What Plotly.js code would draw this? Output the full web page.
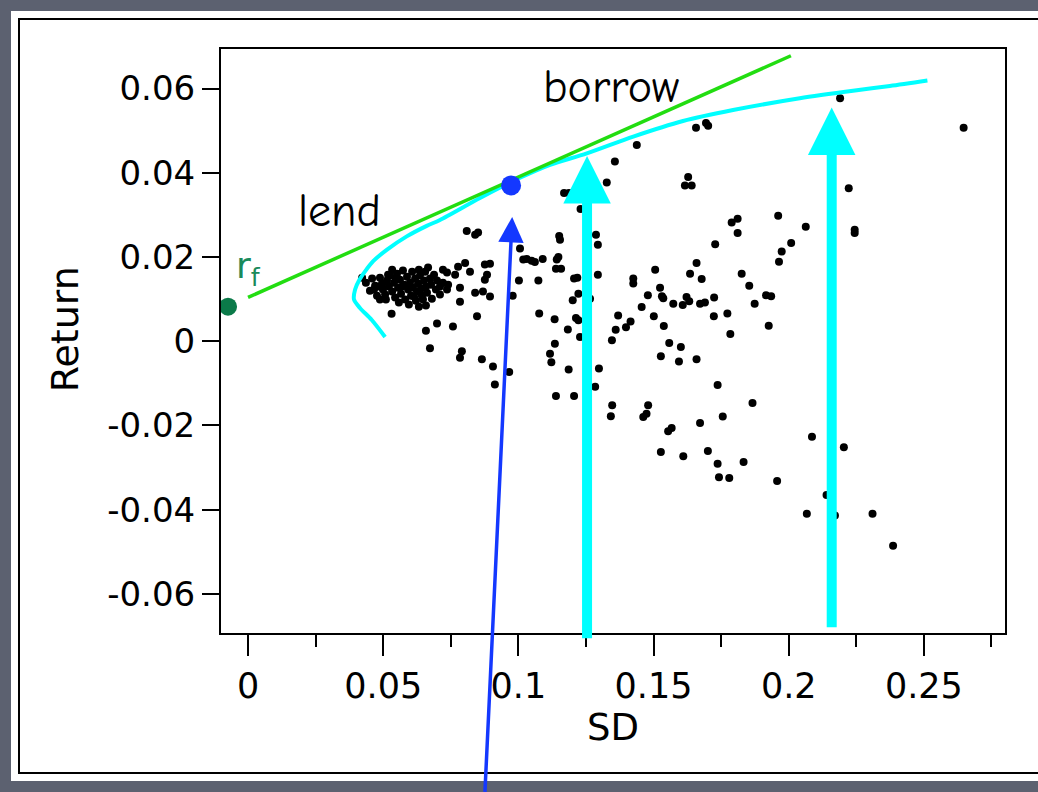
<!DOCTYPE html>
<html>
<head>
<meta charset="utf-8">
<script src="https://cdn.plot.ly/plotly-3.0.1.min.js"></script>
<style>
  html, body { margin: 0; padding: 0; width: 1038px; height: 792px; overflow: hidden; background: #5c6170; }
  #sheet { position: absolute; left: 11px; top: 11px; width: 1060px; height: 770px; background: #ffffff; }
  #frame { position: absolute; left: 18px; top: 18px; width: 1060px; height: 752px; border: 2px solid #000; }
  #chart { position: absolute; left: 0; top: 0; width: 1038px; height: 792px; }
</style>
</head>
<body>
<div id="sheet"></div>
<div id="frame"></div>
<div id="chart"></div>
<script>
// ---- individual assets: standard deviation (SD) and mean return ----
const assetSD = [
  0.0809,0.0840,0.0851,0.0531,0.0632,0.0658,0.0710,0.0721,0.0740,0.0736,
  0.0710,0.0721,0.0736,0.0777,0.0766,0.0803,0.0821,0.0784,0.0784,0.0840,
  0.0869,0.0895,0.0876,0.0895,0.0884,0.0876,0.0847,0.0658,0.0699,0.0758,
  0.0673,0.0791,0.0784,0.0865,0.0906,0.1357,0.1327,0.1169,0.1187,0.1230,
  0.1151,0.1154,0.1287,0.1294,0.1006,0.1018,0.1031,0.1049,0.1061,0.1090,
  0.1142,0.1148,0.1139,0.1158,0.1002,0.1074,0.1206,0.1218,0.1294,0.1425,
  0.1425,0.0979,0.1222,0.1201,0.1265,0.1479,0.1456,0.1077,0.1134,0.1213,
  0.1222,0.1369,0.1183,0.1228,0.1415,0.1398,0.1360,0.1346,0.1135,0.1117,
  0.1122,0.0966,0.1186,0.1298,0.0913,0.1284,0.1139,0.1206,0.1347,0.1480,
  0.1628,0.1616,0.1641,0.1961,0.2063,0.1789,0.1811,0.1811,0.2009,0.1974,
  0.1964,0.1728,0.1659,0.1506,0.1635,0.1678,0.1826,0.1854,0.1524,0.1531,
  0.1536,0.1573,0.1608,0.1622,0.1632,0.1672,0.1690,0.1724,0.1916,0.1935,
  0.1874,0.1501,0.1538,0.1723,0.1773,0.1926,0.1784,0.1558,0.1601,0.1527,
  0.1594,0.1659,0.1737,0.1866,0.2190,0.1657,0.1694,0.1702,0.2647,0.2222,
  0.2244,0.2244,0.1756,0.1672,0.1701,0.1737,0.1833,0.1742,0.1780,0.1957,
  0.2086,0.2204,0.2140,0.2067,0.2171,0.2310,0.2386,0.1342,0.1474,0.1462,
  0.1567,0.1554,0.1527,0.1610,0.1438,
  0.0422,0.0436,0.0451,0.0459,0.0470,0.0477,0.0488,0.0496,0.0499,0.0507,
  0.0514,0.0521,0.0525,0.0533,0.0540,0.0544,0.0551,0.0555,0.0562,0.0566,
  0.0573,0.0577,0.0581,0.0588,0.0592,0.0599,0.0603,0.0607,0.0610,0.0618,
  0.0621,0.0625,0.0629,0.0632,0.0636,0.0640,0.0643,0.0651,0.0655,0.0658,
  0.0662,0.0666,0.0673,0.0677,0.0680,0.0688,0.0695,0.0699,0.0510,0.0533,
  0.0558,0.0595,0.0614,0.0570,0.0547,0.0647,0.0518,0.0488,0.0466,0.0484
];
const assetReturn = [
  0.0262,0.0253,0.0258,0.0065,0.0082,0.0085,0.0130,0.0139,0.0134,0.0123,
  0.0111,0.0170,0.0163,0.0177,0.0158,0.0186,0.0165,0.0127,0.0094,0.0115,
  0.0118,0.0106,0.0182,0.0184,0.0158,0.0146,0.0059,0.0025,0.0042,0.0035,
  -0.0017,-0.0024,-0.0039,-0.0043,-0.0060,0.0427,0.0377,0.0352,0.0352,0.0314,
  0.0250,0.0241,0.0253,0.0229,0.0220,0.0194,0.0195,0.0191,0.0188,0.0195,
  0.0194,0.0200,0.0172,0.0172,0.0144,0.0144,0.0149,0.0151,0.0158,0.0149,
  0.0137,0.0108,0.0113,0.0097,0.0101,0.0109,0.0081,0.0066,0.0052,0.0055,
  0.0050,0.0061,0.0028,0.0010,0.0047,0.0033,0.0027,0.0002,-0.0006,-0.0030,
  -0.0050,-0.0073,-0.0067,-0.0065,-0.0103,-0.0108,-0.0130,-0.0130,-0.0152,-0.0152,
  0.0390,0.0370,0.0370,0.0298,0.0272,0.0282,0.0291,0.0257,0.0233,0.0213,
  0.0189,0.0230,0.0186,0.0170,0.0160,0.0148,0.0160,0.0132,0.0127,0.0107,
  0.0102,0.0089,0.0086,0.0105,0.0095,0.0089,0.0092,0.0104,0.0109,0.0107,
  0.0089,0.0059,0.0036,0.0059,0.0066,0.0037,0.0017,-0.0004,-0.0014,-0.0036,
  -0.0048,-0.0043,-0.0104,-0.0147,0.0577,0.0507,0.0518,0.0512,0.0507,0.0363,
  0.0265,0.0257,-0.0179,-0.0194,-0.0261,-0.0291,-0.0287,-0.0323,-0.0325,-0.0332,
  -0.0227,-0.0252,-0.0365,-0.0410,-0.0414,-0.0410,-0.0486,-0.0178,-0.0172,-0.0180,
  -0.0206,-0.0214,-0.0263,-0.0273,0.0466,
  0.0151,0.0139,0.0120,0.0149,0.0132,0.0108,0.0151,0.0137,0.0123,0.0111,
  0.0144,0.0130,0.0156,0.0118,0.0139,0.0104,0.0160,0.0127,0.0146,0.0113,
  0.0168,0.0134,0.0099,0.0153,0.0123,0.0139,0.0108,0.0165,0.0127,0.0149,
  0.0096,0.0118,0.0137,0.0170,0.0156,0.0125,0.0108,0.0144,0.0165,0.0130,
  0.0115,0.0175,0.0149,0.0134,0.0101,0.0158,0.0123,0.0144,0.0099,0.0170,
  0.0092,0.0087,0.0106,0.0130,0.0149,0.0099,0.0158,0.0099,0.0123,0.0130
];

// ---- efficient frontier (cyan curve) ----
const frontierSD = [0.0507,0.0457,0.0414,0.0392,0.0396,0.0412,0.0433,0.0463,0.0513,0.0587,0.0661,0.0710,
                    0.0858,0.1012,0.1117,0.1253,0.1425,0.1609,0.1794,0.2041,0.2252,0.2374,0.2513];
const frontierReturn = [0.0010,0.0051,0.0079,0.0099,0.0123,0.0146,0.0166,0.0190,0.0217,0.0249,0.0274,0.0288,
                        0.0340,0.0390,0.0419,0.0446,0.0486,0.0523,0.0549,0.0577,0.0596,0.0606,0.0619];

// ---- capital market line (green), risk-free asset, tangency portfolio ----
const cmlSD = [0.0, 0.2008];
const cmlReturn = [0.0104, 0.0678];
const riskFree = {sd: -0.0074, ret: 0.0082};
const tangency = {sd: 0.0973, ret: 0.0370};

// ---- arrows: [tipSD, tipReturn, tailSD, tailReturn] ----
const cyanArrow1 = [0.1254, 0.0440, 0.1254, -0.0709];
const cyanArrow2 = [0.2159, 0.0555, 0.2159, -0.0683];
const blueArrow  = [0.0977, 0.0295, 0.0876, -0.1074];

// ---- labels ----
const labelBorrow = {sd: 0.1346, ret: 0.0603, text: 'borrow'};
const labelLend   = {sd: 0.0337, ret: 0.0309, text: 'lend'};
const labelRf     = {sd: 0.0003, ret: 0.0172, text: 'r<sub>f</sub>'};
const axisTitles  = {x: 'SD', y: 'Return'};

const yTickVals = [-0.06,-0.04,-0.02,0,0.02,0.04,0.06];
const yTickText = ['-0.06','-0.04','-0.02','0','0.02','0.04','0.06'];

const FONT = 'DejaVu Sans, Verdana, sans-serif';
const HAND = 'Comic Sans MS, Comic Neue, DejaVu Sans, sans-serif';

const traces = [
  {x: assetSD, y: assetReturn, type: 'scatter', mode: 'markers',
   marker: {color: '#000000', size: 8}, hoverinfo: 'skip', showlegend: false},
  {x: frontierSD, y: frontierReturn, type: 'scatter', mode: 'lines',
   line: {color: '#00ffff', width: 4, shape: 'spline', smoothing: 0.8}, showlegend: false},
  {x: cmlSD, y: cmlReturn, type: 'scatter', mode: 'lines',
   line: {color: '#22dd11', width: 3.5}, showlegend: false},
  {x: [tangency.sd], y: [tangency.ret], type: 'scatter', mode: 'markers',
   marker: {color: '#1438ff', size: 20}, showlegend: false, cliponaxis: false},
  {x: [riskFree.sd], y: [riskFree.ret], type: 'scatter', mode: 'markers',
   marker: {color: '#0b7a49', size: 18}, showlegend: false, cliponaxis: false}
];

function arrow(a, color, width, size) {
  return {x: a[0], y: a[1], ax: a[2], ay: a[3], xref: 'x', yref: 'y', axref: 'x', ayref: 'y',
          text: '', showarrow: true, arrowhead: 2, arrowsize: size, arrowwidth: width,
          arrowcolor: color, standoff: 0};
}

const layout = {
  width: 1038, height: 792,
  paper_bgcolor: 'rgba(0,0,0,0)', plot_bgcolor: '#ffffff',
  margin: {l: 221, r: 33, t: 49, b: 159},
  showlegend: false,
  font: {family: FONT, color: '#000'},
  xaxis: {
    range: [-0.01, 0.28], tickmode: 'linear', tick0: 0, dtick: 0.05,
    ticks: 'outside', ticklen: 21, tickwidth: 2, tickcolor: '#000',
    minor: {dtick: 0.025, tick0: 0, ticks: 'outside', ticklen: 12, tickwidth: 2, tickcolor: '#000'},
    showline: true, mirror: true, linecolor: '#000', linewidth: 2,
    showgrid: false, zeroline: false, automargin: false,
    tickfont: {family: FONT, size: 35, color: '#000'},
    title: {text: axisTitles.x, font: {family: FONT, size: 37, color: '#000'}, standoff: 6}
  },
  yaxis: {
    range: [-0.0693, 0.0694], tickmode: 'array', tickvals: yTickVals, ticktext: yTickText,
    ticks: 'outside', ticklen: 17, tickwidth: 2, tickcolor: '#000',
    showline: true, mirror: true, linecolor: '#000', linewidth: 2,
    showgrid: false, zeroline: false, automargin: false,
    tickfont: {family: FONT, size: 34, color: '#000'}
  },
  annotations: [
    {xref: 'paper', yref: 'paper', x: -0.199, y: 0.52, xanchor: 'center', yanchor: 'middle',
     text: axisTitles.y, textangle: -90,
     showarrow: false, font: {family: FONT, size: 38, color: '#000'}},
    {x: labelBorrow.sd, y: labelBorrow.ret, text: labelBorrow.text, showarrow: false,
     font: {family: HAND, size: 46, color: '#000'}},
    {x: labelLend.sd, y: labelLend.ret, text: labelLend.text, showarrow: false,
     font: {family: HAND, size: 46, color: '#000'}},
    {x: labelRf.sd, y: labelRf.ret, text: labelRf.text, showarrow: false,
     font: {family: FONT, size: 36, color: '#1a8a5a'}},
    arrow(cyanArrow1, '#00ffff', 10, 0.95),
    arrow(cyanArrow2, '#00ffff', 10, 0.95),
    arrow(blueArrow, '#1438ff', 3.5, 1.45)
  ]
};

Plotly.newPlot('chart', traces, layout, {staticPlot: true});
</script>
</body>
</html>
